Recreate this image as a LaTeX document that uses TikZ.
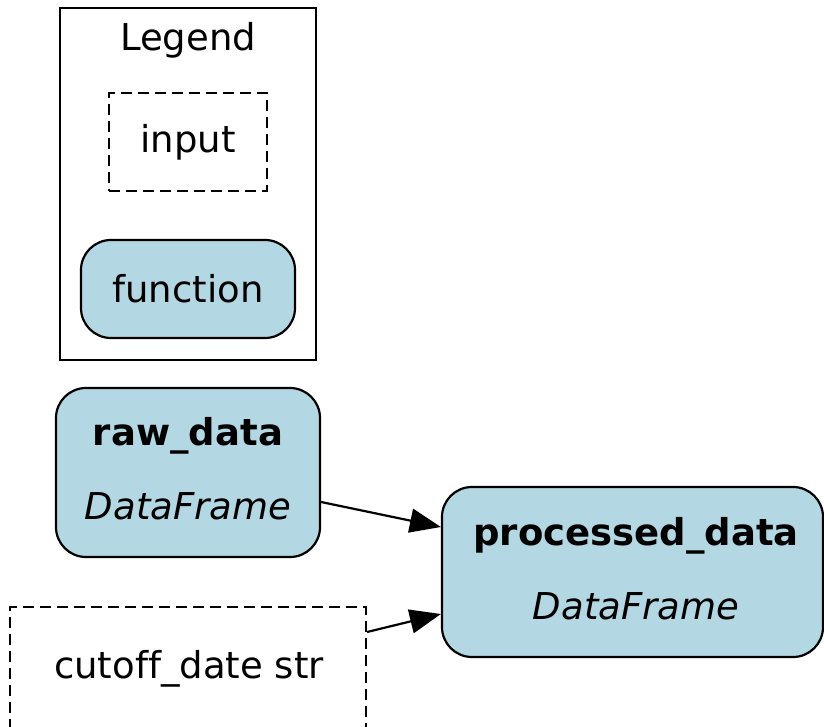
\documentclass[tikz,border=0pt]{standalone}
\usepackage{fontspec}
\setmainfont[Ligatures={NoCommon}]{DejaVu Sans}
\usetikzlibrary{arrows.meta,calc}
\definecolor{lb}{HTML}{B3D8E3}
\begin{document}
\begin{tikzpicture}[x=1pt,y=-1pt,
  base/.style={draw=black,line width=2.2pt,inner sep=0pt,font=\fontsize{37}{74}\selectfont,align=center},
  inbox/.style={base,dash pattern=on 11pt off 6pt},
  fnbox/.style={base,fill=lb,rounded corners=30pt},
  edge/.style={line width=2.2pt,-{Triangle[length=31pt,width=24pt]}}]
\useasboundingbox (0,0) rectangle (824,727);
\clip (0,0) rectangle (824,727);
\node[base,minimum width=256pt,minimum height=352pt] (legend) at (188,184) {};
\node[font=\fontsize{37}{40}\selectfont,anchor=base] (legt) at (188,51) {Legend};
\node[inbox,minimum width=158pt,minimum height=98pt] (inp) at (188,142) {input};
\node[fnbox,minimum width=214pt,minimum height=98pt] (fn) at (188,289) {function};
\node[fnbox,minimum width=264pt,minimum height=169pt] (raw) at (188,472.5) {};
\node[font=\fontsize{37}{74}\selectfont,align=center] (rawt) at ($(raw.center)+(0,-3.5)$) {\textbf{raw\_data}\\\textit{DataFrame}};
\node[fnbox,minimum width=381pt,minimum height=170pt] (proc) at (632.5,572) {};
\node[font=\fontsize{37}{74}\selectfont,align=center] (proct) at ($(proc.center)+(3.5,-3.5)$) {\textbf{processed\_data}\\\textit{DataFrame}};
\node[inbox,minimum width=356pt,minimum height=128pt] (cut) at (188,671) {};
\node[font=\fontsize{37}{40}\selectfont] (cutt) at (189,669) {cutoff\_date str};
\draw[edge] ($(raw.east)+(0,29.5)$) -- ($(proc.west)+(0,-45)$);
\draw[edge] ($(cut.east)+(0,-39)$) -- ($(proc.west)+(0,42)$);
\end{tikzpicture}
\end{document}
